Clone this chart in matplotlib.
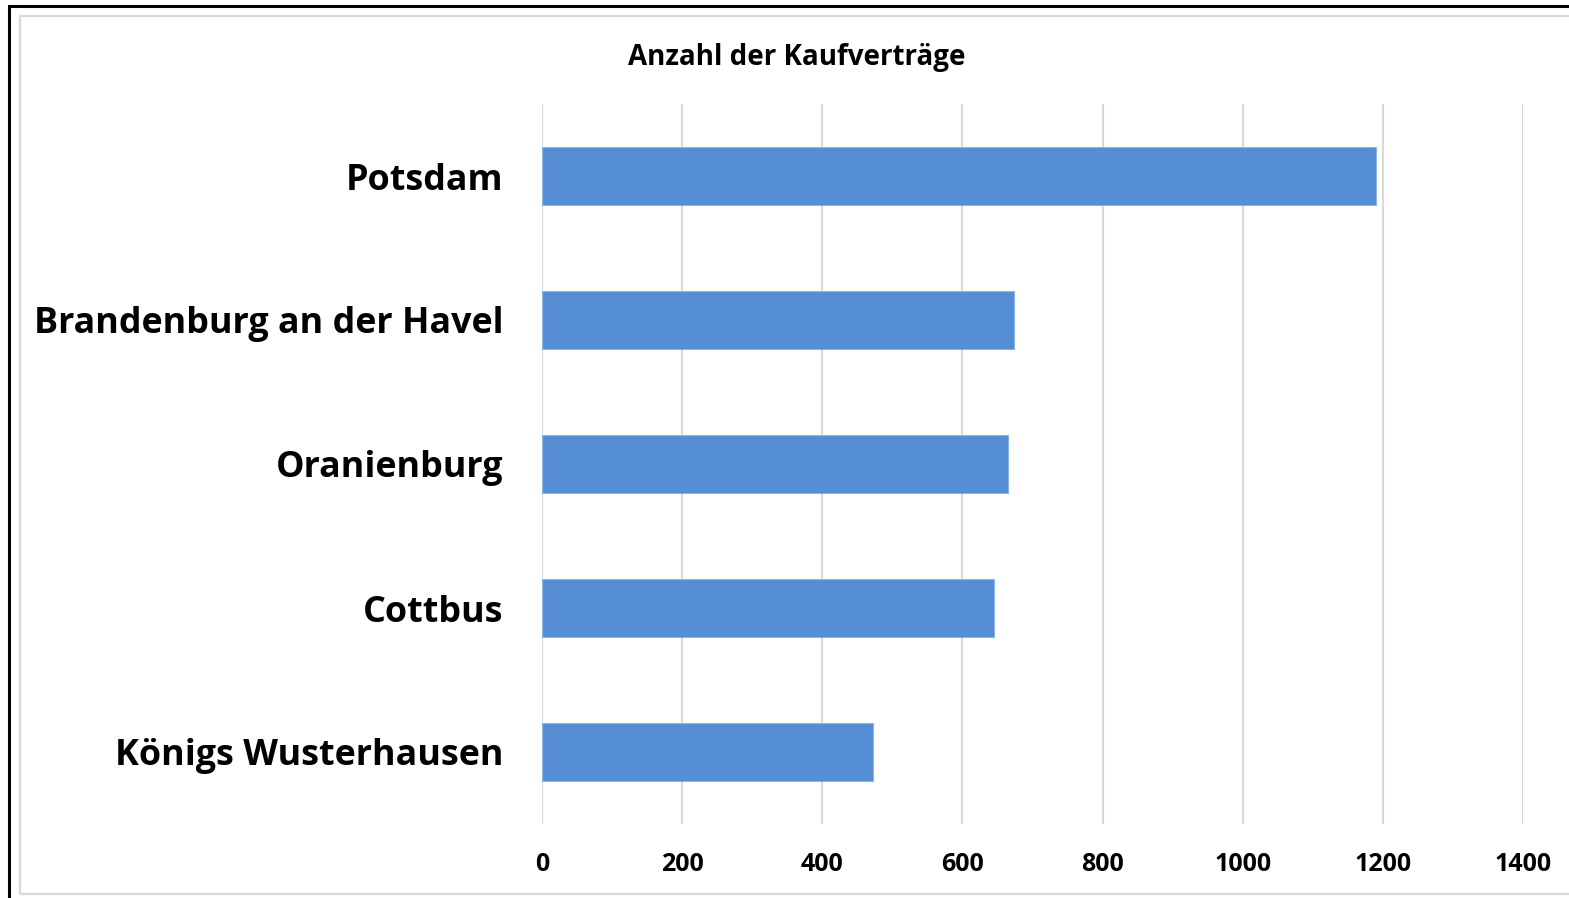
#!/usr/bin/env python3
"""Horizontal bar chart: Anzahl der Kaufverträge."""

import matplotlib.pyplot as plt
from matplotlib.patches import Rectangle

plt.rcParams["font.family"] = ["Open Sans", "DejaVu Sans"]

TITLE = "Anzahl der Kaufverträge"
CITIES = [
    "Potsdam",
    "Brandenburg an der Havel",
    "Oranienburg",
    "Cottbus",
    "Königs Wusterhausen",
]
CONTRACTS = [1190, 673, 665, 645, 472]
X_TICKS = [0, 200, 400, 600, 800, 1000, 1200, 1400]

BAR_COLOR = "#558ed5"
GRID_COLOR = "#d9d9d9"

W, H = 1569, 898
fig = plt.figure(figsize=(W / 100, H / 100), dpi=100)

# outer frames (screenshot border)
fig.patches.append(
    Rectangle((8.5 / W, -0.1), 2.0, 1 - 6 / H + 0.1, transform=fig.transFigure,
              fill=False, edgecolor="black", linewidth=2.2)
)
fig.patches.append(
    Rectangle((20 / W, 1 - 894 / H), 2.0, (894 - 16) / H, transform=fig.transFigure,
              fill=False, edgecolor="#d9d9d9", linewidth=1.6)
)

ax = fig.add_axes([542 / W, 1 - 824 / H, (1523 - 542) / W, (824 - 104) / H])
ypos = list(range(len(CITIES)))
ax.barh(ypos, CONTRACTS, height=0.4, color=BAR_COLOR, edgecolor="#8db3e2",
        linewidth=0.8, zorder=3)

ax.set_xlim(0, 1400)
ax.set_ylim(len(CITIES) - 0.5, -0.5)
ax.set_xticks(X_TICKS)
ax.set_xticklabels([str(t) for t in X_TICKS], fontsize=18, fontweight="bold")
ax.set_yticks(ypos)
ax.set_yticklabels(CITIES, fontsize=25.8, fontweight="bold")
ax.tick_params(axis="x", length=0, pad=20)
ax.tick_params(axis="y", length=0, pad=28)
ax.grid(axis="x", color=GRID_COLOR, linewidth=1.5, zorder=0)
for side in ax.spines.values():
    side.set_visible(False)

fig.text(797 / W, 1 - 58 / H, TITLE, ha="center", va="center",
         fontsize=20, fontweight="bold")

fig.savefig("out.png", dpi=100)
